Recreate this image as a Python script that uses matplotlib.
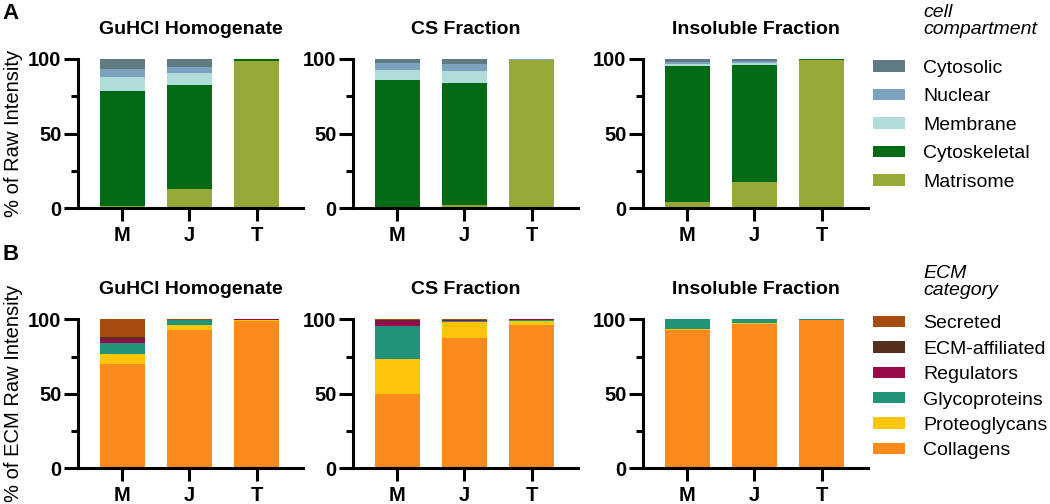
import numpy as np
import matplotlib
matplotlib.use("Agg")
import matplotlib.pyplot as plt
from matplotlib.ticker import MultipleLocator

plt.rcParams['font.family'] = ['Liberation Sans', 'DejaVu Sans']

fractions = ["GuHCl Homogenate", "CS Fraction", "Insoluble Fraction"]
groups = ["M", "J", "T"]

# panel A: cell compartment, % of raw intensity (rows = fraction, cols = M, J, T)
compartments = ["Matrisome", "Cytoskeletal", "Membrane", "Nuclear", "Cytosolic"]
matrisome = [[1.5, 13.0, 98.8], [0.3, 2.2, 99.3], [4.0, 17.3, 99.6]]
cytoskeletal = [[77.0, 69.8, 1.0], [85.3, 81.6, 0.2], [91.1, 78.5, 0.3]]
membrane = [[9.4, 7.8, 0.1], [7.0, 7.9, 0.1], [1.6, 1.2, 0.05]]
nuclear = [[5.7, 4.0, 0.05], [4.7, 4.7, 0.3], [1.5, 1.5, 0.03]]
cytosolic = [[6.4, 5.4, 0.05], [2.7, 3.6, 0.1], [1.8, 1.5, 0.02]]
comp_colors = ["#97a839", "#006a14", "#b0dcdc", "#7ba3bf", "#5f7a80"]

# panel B: ECM category, % of ECM raw intensity
ecm_cats = ["Collagens", "Proteoglycans", "Glycoproteins", "Regulators",
            "ECM-affiliated", "Secreted"]
collagens = [[70.0, 92.8, 98.9], [50.0, 87.5, 96.2], [92.6, 96.6, 99.3]]
proteoglycans = [[6.5, 3.6, 0.3], [23.2, 10.5, 2.7], [1.1, 1.2, 0.05]]
glycoproteins = [[7.6, 2.9, 0.6], [22.3, 0.9, 0.8], [6.2, 2.1, 0.6]]
regulators = [[2.5, 0.4, 0.1], [3.6, 0.7, 0.2], [0.05, 0.05, 0.03]]
ecm_affiliated = [[1.3, 0.1, 0.05], [0.5, 0.2, 0.05], [0.03, 0.03, 0.01]]
secreted = [[12.1, 0.2, 0.05], [0.4, 0.2, 0.05], [0.02, 0.02, 0.01]]
ecm_colors = ["#fa8a1b", "#ffc50a", "#21937a", "#990a4b", "#56301f", "#a54c10"]

panelA = [matrisome, cytoskeletal, membrane, nuclear, cytosolic]
panelB = [collagens, proteoglycans, glycoproteins, regulators, ecm_affiliated, secreted]

W, H = 1050, 504
fig = plt.figure(figsize=(W / 100, H / 100), dpi=100)

lefts = [78, 353, 643]
ax_w = 225
rows = [(59, 208), (319.3, 468.3)]


def draw_panel(ax, series, colors, labels, fi):
    x = np.arange(len(groups))
    bottom = np.zeros(len(groups))
    bars = []
    for s, c, lab in zip(series, colors, labels):
        vals = np.array(s[fi])
        b = ax.bar(x, vals, 0.67, bottom=bottom, color=c, label=lab, linewidth=0)
        bars.append(b)
        bottom += vals
    ax.set_xlim(-0.66, 2.69)
    ax.set_ylim(0, 100)
    ax.set_xticks(x)
    ax.set_xticklabels(groups, fontweight="bold", fontsize=14.5)
    ax.yaxis.set_major_locator(MultipleLocator(50))
    ax.yaxis.set_minor_locator(MultipleLocator(25))
    for lbl in ax.get_yticklabels():
        lbl.set_fontweight("bold")
        lbl.set_fontsize(14.5)
    for sp in ["top", "right"]:
        ax.spines[sp].set_visible(False)
    for sp in ["left", "bottom"]:
        ax.spines[sp].set_linewidth(2.2)
    ax.tick_params(axis="y", which="major", length=10, width=2.2, pad=2)
    ax.tick_params(axis="y", which="minor", length=5, width=2.2)
    ax.tick_params(axis="x", length=9, width=2.2, pad=4)
    ax.set_title(fractions[fi], fontsize=14, fontweight="bold", pad=18)
    return bars


for ri, (top, bot) in enumerate(rows):
    series = panelA if ri == 0 else panelB
    colors = comp_colors if ri == 0 else ecm_colors
    labels = compartments if ri == 0 else ecm_cats
    for fi, l in enumerate(lefts):
        ax = fig.add_axes([l / W, 1 - bot / H, ax_w / W, (bot - top) / H])
        bars = draw_panel(ax, series, colors, labels, fi)
        if fi == 0:
            ax.set_ylabel("% of Raw Intensity" if ri == 0 else "% of ECM Raw Intensity",
                          fontsize=14.5)
            ax.yaxis.set_label_coords(-(78 - 23) / ax_w, 0.5)
        if fi == 2:
            leg_top = 60 if ri == 0 else 315.5
            spacing = 0.59 if ri == 0 else 0.43
            ax.legend(bars[::-1], labels[::-1], loc="upper left",
                      bbox_to_anchor=(873 / W, 1 - leg_top / H),
                      bbox_transform=fig.transFigure, frameon=False,
                      fontsize=14, handlelength=1.65, handleheight=0.52,
                      handletextpad=0.93, labelspacing=spacing,
                      borderpad=0, borderaxespad=0)

fig.text(923 / W, 1 - 4 / H, "cell\ncompartment", fontsize=14, style="italic",
         ha="left", va="top", linespacing=1.0)
fig.text(923 / W, 1 - 265 / H, "ECM\ncategory", fontsize=14, style="italic",
         ha="left", va="top", linespacing=1.0)
fig.text(2 / W, 1 - 3 / H, "A", fontsize=16, fontweight="bold", ha="left", va="top")
fig.text(2 / W, 1 - 244 / H, "B", fontsize=16, fontweight="bold", ha="left", va="top")

fig.savefig("out.png", dpi=100)
